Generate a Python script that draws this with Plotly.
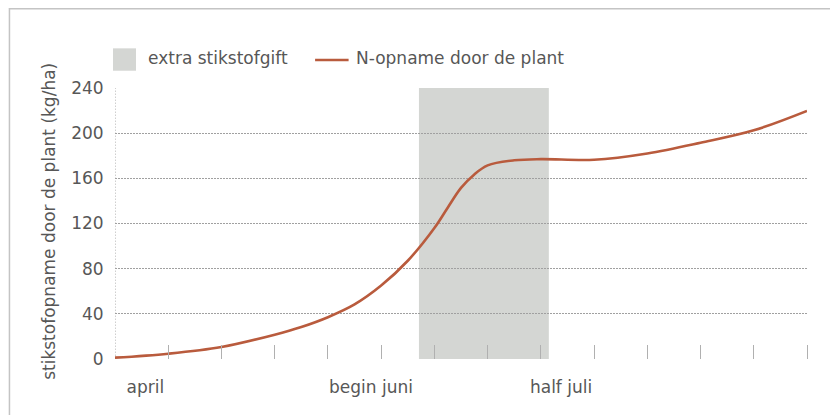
import plotly.graph_objects as go

# ---- data ----
week = [0, 1, 2, 3, 3.5, 4, 4.5, 5, 5.5, 6, 6.25, 6.5, 6.75, 7, 7.5, 8, 9, 10, 11, 12, 13]
n_uptake = [1.2, 4.7, 10.6, 21.5, 28.3, 37, 48.3, 65, 87, 116, 134, 151.5, 163.5, 171.5, 176, 177,
            176.4, 182, 191.5, 202.5, 219.7]
shade_start, shade_end = 5.71, 8.15
minor_ticks = list(range(1, 14))
x_label_pos = [0.57, 4.81, 8.38]
x_label_text = ["april", "begin juni", "half juli"]
y_ticks = [0, 40, 80, 120, 160, 200, 240]
legend_labels = ["extra stikstofgift", "N-opname door de plant"]
y_title = "stikstofopname door de plant (kg/ha)"

LINE = "#b95b3d"
SHADE = "#d4d6d3"
TEXT = "#575757"
GRID = "#a0a0a0"
DOT = "1.5px,1.5px"
FONT = "DejaVu Sans"
FS = 17

# body margin of the page is 8px; geometry below is in screen pixels
OFF = 8
FIG_W, FIG_H = 838 - OFF, 415 - OFF
L, R, T, B = 115, 806.7, 88, 359.3
W, H = R - L, B - T
def px(x):
    return (x - L) / W
def py(y):
    return (B - y) / H

fig = go.Figure()
fig.add_trace(go.Scatter(x=week, y=n_uptake, mode="lines",
                         line=dict(color=LINE, width=2.6, shape="spline", smoothing=1.0),
                         showlegend=False, hoverinfo="skip"))

shapes = [
    dict(type="rect", xref="x", yref="y", x0=shade_start, x1=shade_end, y0=0, y1=240,
         fillcolor=SHADE, line=dict(width=0), layer="below"),
    dict(type="line", xref="x", yref="y", x0=0, x1=0, y0=0, y1=240,
         line=dict(color=GRID, width=1, dash=DOT), layer="below"),
    # outer frame
    dict(type="line", xref="paper", yref="paper", x0=px(9), x1=px(860), y0=py(8.5), y1=py(8.5),
         line=dict(color="#c4c4c4", width=2)),
    dict(type="line", xref="paper", yref="paper", x0=px(9.5), x1=px(9.5), y0=py(8), y1=py(430),
         line=dict(color="#c4c4c4", width=1.5)),
    # legend swatches
    dict(type="rect", xref="paper", yref="paper", x0=px(113), x1=px(136), y0=py(70.7), y1=py(48.3),
         fillcolor=SHADE, line=dict(width=0)),
    dict(type="line", xref="paper", yref="paper", x0=px(315), x1=px(348.5), y0=py(60), y1=py(60),
         line=dict(color=LINE, width=2.6)),
]

tf = dict(family=FONT, size=FS, color=TEXT)
annotations = [
    dict(text=legend_labels[0], xref="paper", yref="paper", x=px(146), y=py(58),
         xanchor="left", yanchor="middle", showarrow=False, font=tf),
    dict(text=legend_labels[1], xref="paper", yref="paper", x=px(354), y=py(58),
         xanchor="left", yanchor="middle", showarrow=False, font=tf),
    dict(text=y_title, xref="paper", yref="paper", x=px(49.5), y=py(221.5), textangle=-90,
         xanchor="center", yanchor="middle", showarrow=False, font=tf),
]

fig.update_layout(
    width=FIG_W, height=FIG_H,
    margin=dict(l=L - OFF, r=FIG_W - (R - OFF), t=T - OFF, b=FIG_H - (B - OFF), pad=0),
    paper_bgcolor="white", plot_bgcolor="rgba(0,0,0,0)",
    font=tf, shapes=shapes, annotations=annotations, showlegend=False,
)
fig.update_xaxes(range=[0, 13], tickmode="array", tickvals=x_label_pos, ticktext=x_label_text,
                 ticks="outside", ticklen=13, tickcolor="rgba(0,0,0,0)", showgrid=False,
                 zeroline=False, showline=False, tickfont=tf,
                 minor=dict(tickmode="array", tickvals=minor_ticks, ticks="inside", ticklen=14,
                            tickcolor="#b0b0b0", tickwidth=1.2, showgrid=False))
fig.update_yaxes(range=[0, 240], tickmode="array", tickvals=y_ticks,
                 ticks="outside", ticklen=7, tickcolor="rgba(0,0,0,0)",
                 showgrid=True, gridcolor=GRID, griddash=DOT, gridwidth=1,
                 zeroline=False, showline=False, tickfont=tf)

fig.write_html("out.html")
